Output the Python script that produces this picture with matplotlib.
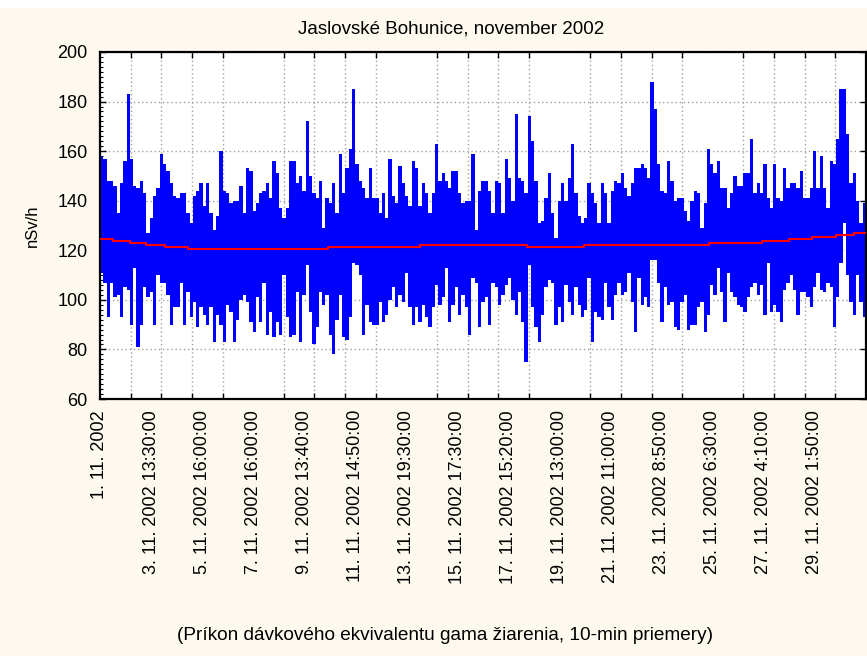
import numpy as np
import matplotlib
matplotlib.use("Agg")
import matplotlib.pyplot as plt
from matplotlib.patches import Rectangle
from matplotlib.ticker import MultipleLocator

# ---- data (per-bin max / min of the 10-min series, nSv/h) ----
upper_a = [158, 157, 148, 148, 146, 135, 147, 156, 183, 157, 146, 145, 148, 143, 127, 133, 142, 145, 159, 155,
           152, 147, 142, 141, 143, 143, 135, 131, 142, 144, 147, 138, 147, 135, 128, 134, 160, 144, 143, 139,
           140, 140, 146, 135, 153, 152, 136, 139, 143, 144, 147, 141, 156, 151, 137, 133, 137, 156]
lower_a = [111, 107, 93, 107, 101, 102, 93, 105, 104, 90, 113, 81, 90, 105, 101, 103, 90, 110, 107, 107,
           102, 90, 97, 97, 107, 90, 103, 93, 99, 89, 97, 94, 90, 97, 83, 94, 90, 83, 98, 95,
           83, 92, 100, 102, 99, 91, 87, 101, 91, 107, 86, 95, 85, 91, 86, 110, 93, 85]
upper_b = [156, 147, 150, 144, 172, 150, 143, 141, 148, 129, 141, 139, 147, 135, 159, 143, 153, 161, 185, 155,
           148, 145, 141, 153, 141, 141, 135, 143, 133, 157, 142, 139, 154, 147, 142, 138, 156, 153, 138, 147,
           143, 135, 143, 163, 148, 151, 148, 145, 152, 152, 143, 139, 140, 140, 159, 128, 144, 148]
lower_b = [86, 103, 83, 102, 114, 95, 82, 89, 103, 98, 102, 86, 78, 92, 102, 85, 84, 93, 115, 114,
           110, 86, 98, 91, 90, 90, 99, 91, 94, 100, 105, 97, 102, 99, 111, 97, 90, 97, 91, 98,
           93, 89, 97, 106, 98, 101, 113, 91, 98, 105, 94, 102, 97, 86, 109, 107, 89, 99]
upper_c = [148, 144, 135, 148, 147, 135, 157, 149, 140, 175, 149, 148, 143, 174, 164, 148, 131, 132, 141, 151,
           135, 125, 140, 147, 140, 149, 163, 143, 134, 131, 133, 147, 143, 139, 131, 147, 143, 131, 144, 148,
           147, 151, 145, 142, 147, 153, 153, 155, 153, 149, 188, 177, 155, 144, 143, 156, 148, 140]
lower_c = [101, 90, 107, 105, 98, 102, 106, 109, 100, 94, 103, 91, 75, 114, 97, 89, 83, 94, 105, 108,
           107, 90, 97, 91, 106, 99, 94, 105, 98, 93, 96, 109, 83, 95, 93, 92, 107, 97, 92, 102,
           107, 102, 103, 111, 99, 87, 109, 98, 101, 97, 116, 116, 107, 91, 105, 98, 99, 89]
upper_d = [141, 141, 136, 132, 140, 144, 143, 129, 139, 161, 155, 151, 156, 145, 145, 137, 143, 150, 146, 146,
           151, 151, 165, 143, 147, 143, 155, 141, 137, 155, 141, 140, 153, 145, 147, 147, 145, 152, 141, 141,
           145, 160, 145, 158, 145, 137, 156, 155, 165, 185, 185, 167, 147, 151, 140, 131, 139]
lower_d = [88, 99, 102, 88, 90, 90, 97, 99, 87, 94, 106, 102, 113, 103, 91, 111, 103, 101, 98, 97,
           95, 101, 105, 107, 102, 106, 94, 115, 95, 98, 95, 91, 104, 107, 110, 104, 94, 103, 103, 101,
           97, 105, 111, 104, 103, 107, 105, 89, 101, 115, 131, 110, 99, 94, 110, 99, 93]

upper = np.array(upper_a + upper_b + upper_c + upper_d, dtype=float)
lower = np.array(lower_a + lower_b + lower_c + lower_d, dtype=float)

# red trend (stepped), start sample index of each step and its value
trend_start = [0, 73, 169, 259, 367, 496, 1286, 1805, 2408, 2730, 3435, 3734, 3886, 4015, 4151, 4252]
trend_value = [124.7, 123.7, 123.1, 122.3, 121.3, 120.5, 121.2, 122.0, 121.3, 122.0, 122.9, 123.7,
               124.4, 125.3, 126.3, 127.1]

n_samples = 4320
tick_labels = ["1. 11. 2002", "3. 11. 2002 13:30:00", "5. 11. 2002 16:00:00", "7. 11. 2002 16:00:00",
               "9. 11. 2002 13:40:00", "11. 11. 2002 14:50:00", "13. 11. 2002 19:30:00",
               "15. 11. 2002 17:30:00", "17. 11. 2002 15:20:00", "19. 11. 2002 13:00:00",
               "21. 11. 2002 11:00:00", "23. 11. 2002 8:50:00", "25. 11. 2002 6:30:00",
               "27. 11. 2002 4:10:00", "29. 11. 2002 1:50:00"]
y_ticks = [60, 80, 100, 120, 140, 160, 180, 200]

title = "Jaslovské Bohunice, november 2002"
caption = "(Príkon dávkového ekvivalentu gama žiarenia, 10-min priemery)"
ylabel = "nSv/h"

# ---- figure ----
plt.rcParams["font.family"] = ["Liberation Sans", "DejaVu Sans"]
cream = "#fdf9ee"
W, H = 867, 656
fig = plt.figure(figsize=(W / 100, H / 100), dpi=100, facecolor=cream)
fig.patches.append(Rectangle((0, 1 - 8 / H), 1, 8 / H, transform=fig.transFigure,
                             facecolor="white", edgecolor="none"))

x0, x1, ytop, ybot = 100, 866, 52, 399
ax = fig.add_axes([x0 / W, 1 - ybot / H, (x1 - x0) / W, (ybot - ytop) / H])
ax.set_facecolor("white")

edges = np.linspace(0, n_samples, len(upper) + 1)
ax.fill_between(edges, np.append(lower, lower[-1]), np.append(upper, upper[-1]),
                step="post", color="#0000ff", linewidth=0, zorder=2)

tx = list(trend_start) + [n_samples]
ty = list(trend_value) + [trend_value[-1]]
ax.plot(tx, ty, drawstyle="steps-post", color="#ff0000", linewidth=1.5, zorder=3)

ax.set_xlim(0, n_samples)
ax.set_ylim(60, 200)

label_pos = np.arange(len(tick_labels)) * (n_samples / 15)
ax.set_xticks(label_pos)
ax.set_xticklabels(tick_labels, rotation=90)
ax.set_xticks(np.linspace(0, n_samples, 26)[1:-1], minor=True)
ax.tick_params(axis="x", which="major", length=0, pad=8, labelsize=13)
ax.tick_params(axis="x", which="minor", direction="in", length=4, top=True, bottom=True, width=1)

ax.set_yticks(y_ticks)
ax.yaxis.set_minor_locator(MultipleLocator(2))
ax.tick_params(axis="y", which="major", direction="in", length=4, left=True, right=True,
               labelsize=13, pad=9, width=1)
ax.tick_params(axis="y", which="minor", direction="in", length=2, left=True, right=False, width=0.8)

ax.set_axisbelow(True)
grid_kw = dict(color="#a0a0a0", linestyle=(0, (1, 2)), linewidth=1)
ax.grid(True, which="minor", axis="x", **grid_kw)
ax.grid(True, which="major", axis="y", **grid_kw)

for s in ax.spines.values():
    s.set_linewidth(1.6)
    s.set_color("black")

ax.set_ylabel(ylabel, fontsize=12)
ax.yaxis.set_label_coords(-0.079, 0.5)

fig.text(451 / W, 1 - 29 / H, title, ha="center", va="center", fontsize=13.5)
fig.text(445 / W, 1 - 636 / H, caption, ha="center", va="center", fontsize=13.7)

fig.savefig("out.png", dpi=100, facecolor=cream)
